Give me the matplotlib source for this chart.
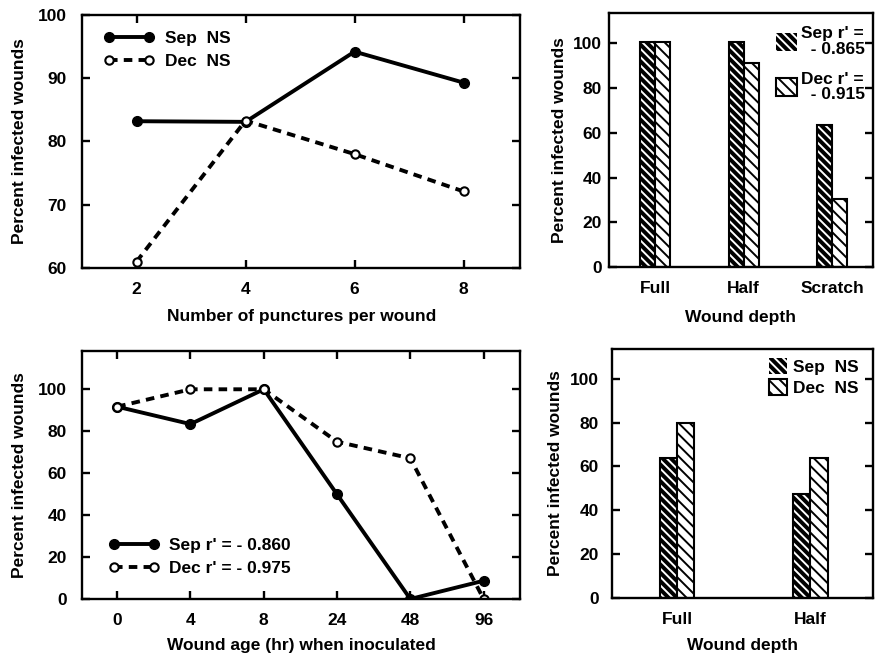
import matplotlib
matplotlib.use("Agg")
import matplotlib.pyplot as plt
import numpy as np
from matplotlib.patches import Patch

plt.rcParams['font.family'] = ['Liberation Sans', 'DejaVu Sans']
plt.rcParams['font.weight'] = 'bold'
plt.rcParams['hatch.linewidth'] = 1.4

# ---- data ----
punctures = [2, 4, 6, 8]
punct_sep = [83.2, 83.1, 94.2, 89.3]
punct_dec = [61.0, 83.3, 78.0, 72.1]

depth_cats_a = ['Full', 'Half', 'Scratch']
depth_sep_a = [100.5, 100.5, 63.6]
depth_dec_a = [100.5, 91.0, 30.3]

age_labels = ['0', '4', '8', '24', '48', '96']
age_sep = [91.7, 83.4, 100.0, 49.9, 0.0, 8.7]
age_dec = [91.7, 100.0, 100.0, 75.0, 67.1, 0.0]

depth_cats_b = ['Full', 'Half']
depth_sep_b = [63.7, 47.5]
depth_dec_b = [80.0, 64.0]

FS = 12.5
fig = plt.figure(figsize=(8.8, 6.56), dpi=100)

def style(ax, ypad, xpad=10, top=True):
    for s in ax.spines.values():
        s.set_linewidth(1.7)
    ax.tick_params(direction='in', length=6, width=1.7, labelsize=FS,
                   top=top, right=True)
    ax.tick_params(axis='y', pad=ypad)
    ax.tick_params(axis='x', pad=xpad)
    for lab in ax.get_xticklabels() + ax.get_yticklabels():
        lab.set_fontweight('bold')

line_kw_sep = dict(color='black', lw=2.8, marker='o', ms=7, mfc='black', mec='black')
line_kw_dec = dict(color='black', lw=2.8, ls=(0, (2.2, 1.6)), marker='o', ms=6,
                   mfc='white', mec='black', mew=1.5)

# ---- top-left ----
ax1 = fig.add_axes([0.0932, 0.5915, 0.498, 0.3857])
ax1.plot(punctures, punct_sep, **line_kw_sep, label='Sep  NS')
ax1.plot(punctures, punct_dec, **line_kw_dec, label='Dec  NS')
ax1.set_xlim(1, 9.04)
ax1.set_ylim(60, 100)
ax1.set_xticks(punctures)
ax1.set_yticks([60, 70, 80, 90, 100])
ax1.set_xlabel('Number of punctures per wound', fontsize=FS, fontweight='bold', labelpad=9)
ax1.set_ylabel('Percent infected wounds', fontsize=FS, fontweight='bold', labelpad=8)
style(ax1, ypad=11)
ax1.legend(loc='upper left', frameon=False, numpoints=2, handlelength=2.9,
           handletextpad=0.6, fontsize=FS, bbox_to_anchor=(0.015, 1.0),
           labelspacing=0.45)

# ---- bar helper ----
def bars(ax, cats, sep, dec, width):
    x = np.arange(len(cats))
    ax.bar(x - width / 2, sep, width, facecolor='black', edgecolor='white',
           hatch='\\\\\\\\', lw=0)
    ax.bar(x - width / 2, sep, width, fill=False, edgecolor='black', lw=1.5)
    ax.bar(x + width / 2, dec, width, facecolor='white', edgecolor='black',
           hatch='\\\\\\', lw=1.5)
    ax.set_xticks(x)
    ax.set_xticklabels(cats)
    return x

def bar_handles():
    h1 = Patch(facecolor='black', edgecolor='white', hatch='\\\\\\\\', lw=0)
    h2 = Patch(facecolor='white', edgecolor='black', hatch='\\\\\\', lw=1.5)
    return h1, h2

# ---- top-right ----
ax2 = fig.add_axes([0.692, 0.593, 0.300, 0.387])
bars(ax2, depth_cats_a, depth_sep_a, depth_dec_a, 0.17)
ax2.set_xlim(-0.52, 2.46)
ax2.set_ylim(0, 113.5)
ax2.set_yticks([0, 20, 40, 60, 80, 100])
ax2.set_xlabel('Wound depth', fontsize=FS, fontweight='bold', labelpad=10)
ax2.set_ylabel('Percent infected wounds', fontsize=FS, fontweight='bold', labelpad=4)
style(ax2, ypad=5, top=False)
ax2.tick_params(axis='x', length=0, pad=10)
h1, h2 = bar_handles()
leg2 = ax2.legend([h1, h2], ["Sep r' =\n  - 0.865", "Dec r' =\n  - 0.915"],
                  loc='upper right', frameon=False, fontsize=FS, handlelength=1.2,
                  handleheight=1.2, handletextpad=0.2, labelspacing=0.85,
                  borderaxespad=0.0, bbox_to_anchor=(0.995, 0.975))
for t in leg2.get_texts():
    t.set_linespacing(1.05)

# ---- bottom-left ----
ax3 = fig.add_axes([0.0932, 0.0869, 0.498, 0.3785])
xa = np.arange(len(age_labels))
ax3.plot(xa, age_sep, **line_kw_sep, label="Sep r' = - 0.860")
ax3.plot(xa, age_dec, **line_kw_dec, label="Dec r' = - 0.975")
ax3.set_xlim(-0.48, 5.5)
ax3.set_ylim(0, 118.4)
ax3.set_xticks(xa)
ax3.set_xticklabels(age_labels)
ax3.set_yticks([0, 20, 40, 60, 80, 100])
ax3.set_xlabel('Wound age (hr) when inoculated', fontsize=FS, fontweight='bold', labelpad=7)
ax3.set_ylabel('Percent infected wounds', fontsize=FS, fontweight='bold', labelpad=8)
style(ax3, ypad=11)
ax3.legend(loc='lower left', frameon=False, numpoints=2, handlelength=2.9,
           handletextpad=0.6, fontsize=FS, bbox_to_anchor=(0.025, 0.03),
           labelspacing=0.45)

# ---- bottom-right ----
ax4 = fig.add_axes([0.695, 0.0889, 0.297, 0.379])
bars(ax4, depth_cats_b, depth_sep_b, depth_dec_b, 0.13)
ax4.set_xlim(-0.49, 1.47)
ax4.set_ylim(0, 113.7)
ax4.set_yticks([0, 20, 40, 60, 80, 100])
ax4.set_xlabel('Wound depth', fontsize=FS, fontweight='bold', labelpad=8)
ax4.set_ylabel('Percent infected wounds', fontsize=FS, fontweight='bold', labelpad=5)
style(ax4, ypad=9, top=False)
ax4.tick_params(axis='x', length=0, pad=10)
h1, h2 = bar_handles()
ax4.legend([h1, h2], ['Sep  NS', 'Dec  NS'], loc='upper right', frameon=False,
           fontsize=FS, handlelength=1.05, handleheight=1.05, handletextpad=0.35,
           labelspacing=0.2, borderaxespad=0.2, bbox_to_anchor=(0.985, 1.005))

fig.savefig('out.png', dpi=100, facecolor='white')
